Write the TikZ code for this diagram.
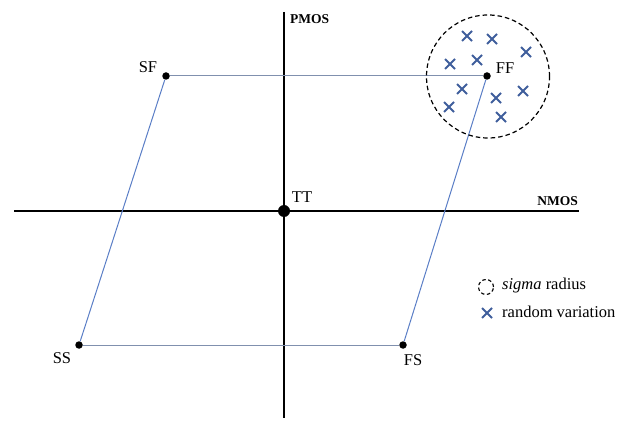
\documentclass[tikz,border=0pt]{standalone}
\usepackage{fontspec}
\setmainfont{Liberation Serif}
\begin{document}
\begin{tikzpicture}[x=1pt,y=-1pt,
  axis/.style={line width=2.8pt,black},
  hline/.style={line width=1pt,color=hgray},
  sline/.style={line width=1pt,color=sblue},
  dot/.style={circle,fill=black,inner sep=0pt,minimum size=7.5pt},
  bigdot/.style={circle,fill=black,inner sep=0pt,minimum size=12pt},
  lbl/.style={font=\fontsize{16.5}{19}\selectfont,inner sep=0pt},
  axlbl/.style={font=\bfseries\fontsize{13.5}{16}\selectfont,inner sep=0pt},
  xmark/.style={line width=1.8pt,color=xblue},
  sigcirc/.style={line width=1.2pt,dash pattern=on 4.5pt off 3pt}
]
\definecolor{xblue}{HTML}{3F5E9C}
\definecolor{hgray}{HTML}{8090AE}
\definecolor{sblue}{HTML}{5A7EC6}
\useasboundingbox (0,0) rectangle (618,427);
% axes
\coordinate (xl) at (14,211);
\coordinate (xr) at (579,211);
\coordinate (yt) at (284,12);
\coordinate (yb) at (284,418);
\draw[axis] (xl) -- (xr);
\draw[axis] (yt) -- (yb);
\node[axlbl,anchor=west] (pmos) at (290,19) {PMOS};
\node[axlbl,anchor=east] (nmos) at (578,201) {NMOS};
% corners
\node[dot] (sf) at (166,76) {};
\node[dot] (ff) at (487,76) {};
\node[dot] (ss) at (79,345) {};
\node[dot] (fs) at (403,345) {};
\node[bigdot] (tt) at (284,211) {};
\draw[hline] (sf) -- (ff);
\draw[hline] (ss) -- (fs);
\draw[sline] (sf) -- (ss);
\draw[sline] (ff) -- (fs);
\node[lbl] (ttl) at (302,197) {TT};
\node[lbl] (sfl) at (148,67) {SF};
\node[lbl] (ffl) at (505,68) {FF};
\node[lbl] (ssl) at (62,358) {SS};
\node[lbl] (fsl) at (413,360) {FS};
% sigma circle
\node[draw,circle,sigcirc,minimum size=123pt,inner sep=0pt] (sig) at (488,76.5) {};
% crosses
\foreach \px/\py in {467/36, 492/39, 526/52, 450/64, 477/60, 462/89, 496/98, 523/91, 449/107, 501/117}{
  \draw[xmark] (\px-5,\py-5) -- (\px+5,\py+5) (\px-5,\py+5) -- (\px+5,\py-5);
}
% legend
\node[draw,circle,line width=1.1pt,dash pattern=on 3.5pt off 2.5pt,minimum size=15pt,inner sep=0pt] (legc) at (486,287) {};
\node[lbl,anchor=west] (legt1) at (502,286) {\textit{sigma} radius};
\draw[xmark] (482,308) -- (492,318) (482,318) -- (492,308);
\node[lbl,anchor=west] (legt2) at (502,312) {random variation};
\end{tikzpicture}
\end{document}
